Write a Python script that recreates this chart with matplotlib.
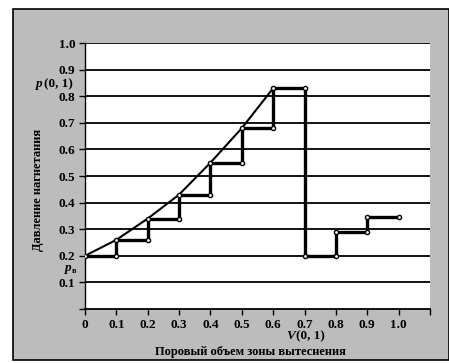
import matplotlib.pyplot as plt
from matplotlib.patches import Rectangle

# step profile of injection pressure
step_x = [0.0, 0.1, 0.1, 0.2, 0.2, 0.3, 0.3, 0.4, 0.4, 0.5, 0.5, 0.6, 0.6, 0.7,
          0.7, 0.8, 0.8, 0.9, 0.9, 1.0]
step_y = [0.20, 0.20, 0.26, 0.26, 0.34, 0.34, 0.43, 0.43, 0.55, 0.55, 0.68, 0.68,
          0.83, 0.83, 0.20, 0.20, 0.29, 0.29, 0.345, 0.345]

# smooth growth curve through the step corners
curve_x = [0.0, 0.1, 0.2, 0.3, 0.4, 0.5, 0.6]
curve_y = [0.20, 0.26, 0.34, 0.43, 0.55, 0.68, 0.83]

xticks = [0, 0.1, 0.2, 0.3, 0.4, 0.5, 0.6, 0.7, 0.8, 0.9, 1.0, 1.1]
xtick_labels = ['0', '0.1', '0.2', '0.3', '0.4', '0.5', '0.6', '0.7', '0.8', '0.9', '1.0', '']
yticks = [0, 0.1, 0.2, 0.3, 0.4, 0.5, 0.6, 0.7, 0.8, 0.9, 1.0]
ytick_labels = ['', '0.1', '0.2', '0.3', '0.4', '0.5', '0.6', '0.7', '0.8', '0.9', '1.0']

plt.rcParams['font.family'] = ['Liberation Serif', 'DejaVu Serif']

W, H = 449, 363
fig = plt.figure(figsize=(W / 100, H / 100), dpi=100)
fig.patch.set_facecolor('white')

# grey scanned frame (behind the axes)
fig.patches.append(Rectangle((13 / W, 3 / H), 1 - 13 / W, 1 - 12 / H,
                             transform=fig.transFigure, facecolor='#bcbcbc',
                             edgecolor='black', linewidth=1.2, zorder=-10))

ax = fig.add_axes([85 / W, 1 - 309 / H, (430 - 85) / W, (309 - 43) / H])
ax.set_zorder(1)
ax.set_facecolor('white')
ax.set_xlim(0, 1.1)
ax.set_ylim(0, 1.0)

for y in yticks[1:]:
    ax.axhline(y, color='black', linewidth=1.3, zorder=1)

ax.plot(curve_x, curve_y, color='black', linewidth=1.5, zorder=2)
ax.plot(step_x, step_y, color='black', linewidth=2.4, zorder=3,
        marker='o', markersize=3, markerfacecolor='white',
        markeredgecolor='black', markeredgewidth=1.0)

ax.set_xticks(xticks)
ax.set_xticklabels(xtick_labels)
ax.set_yticks(yticks)
ax.set_yticklabels(ytick_labels)
ax.tick_params(direction='out', length=4, width=1, pad=3, labelsize=9.5)
for lab in ax.get_xticklabels() + ax.get_yticklabels():
    lab.set_fontweight('bold')

for side in ['top', 'right']:
    ax.spines[side].set_visible(False)
ax.spines['left'].set_linewidth(1.0)
ax.spines['bottom'].set_linewidth(1.3)

fig.text(38 / W, 1 - 190 / H, 'Давление нагнетания', rotation=90,
         ha='center', va='center', fontsize=9, fontweight='bold')
fig.text(250 / W, 1 - 352 / H, 'Поровый объем зоны вытеснения',
         ha='center', va='center', fontsize=9, fontweight='bold')

fig.text(286 / W, 1 - 336 / H, 'V', ha='left', va='center',
         fontsize=9.5, fontweight='bold', style='italic')
fig.text(296 / W, 1 - 336 / H, '(0, 1)', ha='left', va='center',
         fontsize=9.5, fontweight='bold')
fig.text(36 / W, 1 - 84 / H, 'p', ha='left', va='center',
         fontsize=9.5, fontweight='bold', style='italic')
fig.text(44 / W, 1 - 84 / H, '(0, 1)', ha='left', va='center',
         fontsize=9.5, fontweight='bold')
fig.text(65 / W, 1 - 268 / H, 'p', ha='left', va='center',
         fontsize=9.5, fontweight='bold', style='italic')
fig.text(72 / W, 1 - 271 / H, 'в', ha='left', va='center',
         fontsize=6, fontweight='bold')

fig.savefig('out.png', dpi=100, facecolor=fig.get_facecolor())
